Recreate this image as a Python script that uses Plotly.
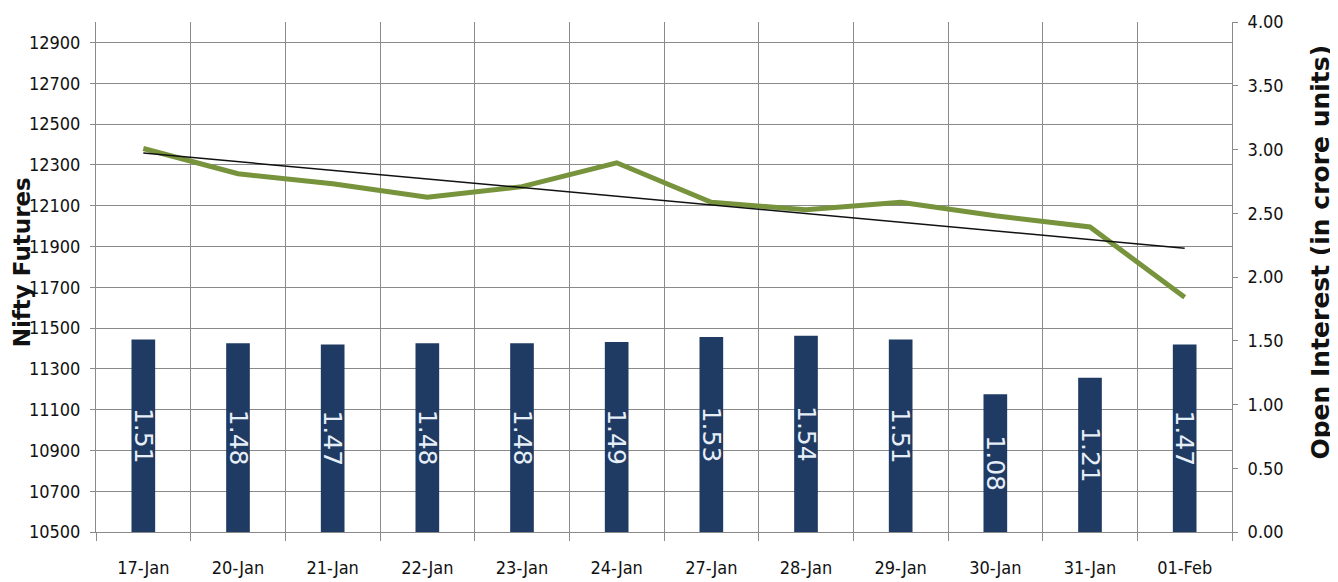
import numpy as np
import plotly.graph_objects as go

dates = ["17-Jan", "20-Jan", "21-Jan", "22-Jan", "23-Jan", "24-Jan",
         "27-Jan", "28-Jan", "29-Jan", "30-Jan", "31-Jan", "01-Feb"]
nifty_futures = [12380, 12256, 12207, 12141, 12193, 12310,
                 12116, 12080, 12116, 12050, 11995, 11651]
open_interest = [1.51, 1.48, 1.47, 1.48, 1.48, 1.49,
                 1.53, 1.54, 1.51, 1.08, 1.21, 1.47]
oi_labels = ["1.51", "1.48", "1.47", "1.48", "1.48", "1.49",
             "1.53", "1.54", "1.51", "1.08", "1.21", "1.47"]

# linear trendline of Nifty futures (as in the original chart)
idx = np.arange(len(nifty_futures))
slope, intercept = np.polyfit(idx, nifty_futures, 1)
trend = list(slope * idx + intercept)

TICKFONT = dict(family="DejaVu Sans Condensed, Liberation Sans Narrow, sans-serif",
                size=18, color="#111111")
GRID = "#8a8a8a"

fig = go.Figure()
fig.add_trace(go.Bar(
    x=dates, y=open_interest, yaxis="y2",
    marker=dict(color="#1f3a63", line=dict(width=0)),
    text=oi_labels, textposition="inside", insidetextanchor="middle",
    textangle=90, constraintext="none",
    insidetextfont=dict(family="DejaVu Sans, sans-serif", size=25, color="#e6eef8"),
    width=0.25, showlegend=False, hoverinfo="skip",
))
fig.add_trace(go.Scatter(
    x=dates, y=nifty_futures, mode="lines",
    line=dict(color="#77933c", width=5), showlegend=False,
))
fig.add_trace(go.Scatter(
    x=dates, y=trend, mode="lines",
    line=dict(color="#111111", width=1.5), showlegend=False,
))

fig.update_layout(
    width=1330, height=574,
    margin=dict(l=88, r=106, t=14, b=50),
    plot_bgcolor="white", paper_bgcolor="white",
    xaxis=dict(
        type="category", tickson="boundaries", showgrid=True, gridcolor=GRID, gridwidth=1,
        ticks="outside", ticklen=8, tickcolor=GRID, showline=True, linecolor=GRID,
        tickfont=TICKFONT, ticklabelstandoff=19, zeroline=False, automargin=False,
    ),
    yaxis=dict(
        range=[10500, 13000], tick0=10500, dtick=200, tickformat="d", showgrid=True,
        gridcolor=GRID, gridwidth=1, ticks="outside", ticklen=5, tickcolor=GRID,
        showline=True, linecolor=GRID, tickfont=TICKFONT, zeroline=False,
        ticklabelstandoff=6, automargin=False,
    ),
    yaxis2=dict(
        range=[0, 4], tick0=0, dtick=0.5, tickformat=".2f", overlaying="y", side="right",
        showgrid=False, ticks="outside", ticklen=5, tickcolor=GRID, showline=True,
        linecolor=GRID, tickfont=TICKFONT, zeroline=False, ticklabelstandoff=6,
        automargin=False,
    ),
    bargap=0.75,
    annotations=[
        dict(text="Nifty Futures", textangle=-90, xref="paper", yref="paper",
             x=-0.0655, y=0.528, xanchor="center", yanchor="middle", showarrow=False,
             font=dict(family="DejaVu Sans, sans-serif", size=23, color="#111111", weight="bold")),
        dict(text="Open Interest (in crore units)", textangle=-90, xref="paper", yref="paper",
             x=1.0775, y=0.548, xanchor="center", yanchor="middle", showarrow=False,
             font=dict(family="DejaVu Sans, sans-serif", size=25, color="#111111", weight="bold")),
    ],
)

fig.write_html("out.html")
